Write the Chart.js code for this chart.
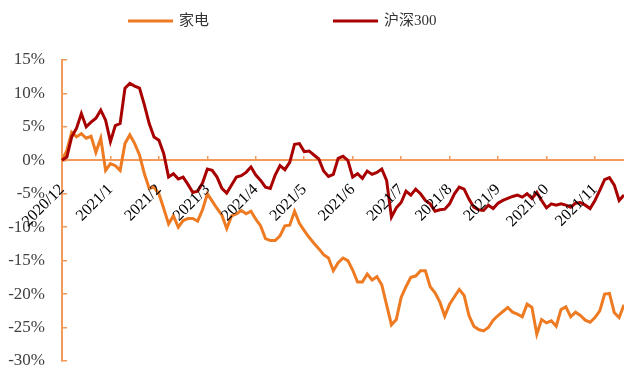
<!DOCTYPE html>
<html>
<head>
<meta charset="utf-8">
<script src="https://cdn.jsdelivr.net/npm/chart.js@4.4.0/dist/chart.umd.min.js"></script>
<style>
  html, body { margin: 0; padding: 0; background: #fff; }
</style>
</head>
<body>
<canvas id="perfChart" width="624" height="374"></canvas>
<script>
// month ticks, one every `monthStep` points
const monthLabels = ['2020/12', '2021/1', '2021/2', '2021/3', '2021/4', '2021/5',
  '2021/6', '2021/7', '2021/8', '2021/9', '2021/10', '2021/11'];
const monthStep = 10;

// cumulative return, %
const jiadian = [
  0, 1.5, 4.2, 3.5, 4.0, 3.3, 3.6, 1.2, 3.3, -1.5,
  -0.5, -0.8, -1.5, 2.5, 3.8, 2.5, 0.8, -2.0, -4.2, -4.0,
  -5.0, -7.2, -9.5, -8.3, -10.0, -9.0, -8.7, -8.7, -9.1, -7.4,
  -5.0, -6.1, -7.2, -8.2, -10.2, -8.3, -8.0, -7.5, -8.0, -7.6,
  -8.8, -9.8, -11.7, -12.0, -12.0, -11.3, -9.8, -9.7, -7.6, -9.4,
  -10.5, -11.5, -12.4, -13.2, -14.1, -14.6, -16.5, -15.3, -14.6, -15.0,
  -16.4, -18.2, -18.2, -17.0, -17.9, -17.4, -18.6, -21.6, -24.6, -23.8,
  -20.5, -18.9, -17.5, -17.3, -16.5, -16.5, -18.9, -19.8, -21.2, -23.3,
  -21.5, -20.4, -19.3, -20.2, -23.2, -24.8, -25.3, -25.5, -25.0, -23.9,
  -23.2, -22.6, -22.0, -22.7, -23.0, -23.4, -21.5, -22.0, -26.0, -23.8,
  -24.3, -24.0, -24.8, -22.3, -21.9, -23.4, -22.7, -23.2, -23.9, -24.2,
  -23.5, -22.5, -20.0, -19.9, -22.8, -23.5, -21.6
];
const hs300 = [
  0, 0.5, 3.5, 4.8, 7.0, 5.0, 5.7, 6.3, 7.5, 6.0,
  2.8, 5.2, 5.5, 10.8, 11.5, 11.1, 10.8, 8.3, 5.5, 3.5,
  3.0, 1.0, -2.5, -2.0, -2.8, -2.5, -3.6, -4.8, -4.6, -3.4,
  -1.3, -1.5, -2.5, -4.2, -4.9, -3.7, -2.5, -2.3, -1.8, -1.0,
  -2.2, -3.0, -4.0, -4.2, -2.2, -0.8, -1.4, -0.3, 2.4, 2.5,
  1.3, 1.4, 0.8, 0.2, -1.6, -2.4, -2.1, 0.3, 0.6, 0.0,
  -2.5, -2.0, -2.7, -1.6, -2.1, -1.8, -1.3, -3.0, -8.5, -7.1,
  -6.3, -4.6, -5.2, -4.3, -5.0, -6.0, -6.5, -7.6, -7.4, -7.3,
  -6.5, -5.0, -4.0, -4.3, -5.8, -7.0, -7.4, -7.5, -6.7, -7.2,
  -6.4, -6.0, -5.7, -5.4, -5.2, -5.5, -5.0, -5.7, -4.8, -6.0,
  -7.1, -6.5, -6.7, -6.5, -6.7, -7.0, -6.4, -6.3, -6.7, -7.2,
  -6.0, -4.5, -2.9, -2.6, -3.7, -6.0, -5.2
];

const yMin = -30, yMax = 15, yStep = 5;

const labels = jiadian.map((_, i) => (i % monthStep === 0 ? monthLabels[i / monthStep] : ''));

const axisColor = '#F39A5A';

// legend drawn as short lines with labels at fixed spots
const lineLegend = {
  id: 'lineLegend',
  afterDraw(chart, args, opts) {
    const ctx = chart.ctx;
    ctx.save();
    ctx.font = opts.font;
    ctx.textBaseline = 'middle';
    chart.data.datasets.forEach((ds, i) => {
      const x = opts.x[i];
      ctx.strokeStyle = ds.borderColor;
      ctx.lineWidth = 3;
      ctx.beginPath();
      ctx.moveTo(x, opts.y);
      ctx.lineTo(x + opts.lineLength, opts.y);
      ctx.stroke();
      ctx.fillStyle = opts.color;
      ctx.fillText(ds.label, x + opts.lineLength + opts.gap, opts.y);
    });
    ctx.restore();
  }
};

new Chart(document.getElementById('perfChart'), {
  type: 'line',
  data: {
    labels: labels,
    datasets: [{
      label: '家电',
      data: jiadian,
      borderColor: '#EE7A22',
      borderWidth: 3,
      pointRadius: 0,
      order: 1
    }, {
      label: '沪深300',
      data: hs300,
      borderColor: '#A80000',
      borderWidth: 3,
      pointRadius: 0,
      order: 0
    }]
  },
  options: {
    responsive: false,
    animation: false,
    layout: { padding: { top: 60, bottom: 13, right: 0, left: 0 } },
    plugins: {
      legend: { display: false },
      tooltip: { enabled: false },
      lineLegend: {
        x: [128, 333],
        y: 21,
        lineLength: 45,
        gap: 6,
        font: '15px "Liberation Serif", "Noto Sans CJK SC"',
        color: '#333'
      }
    },
    scales: {
      x: {
        // axis sits on the 0% line
        position: { y: 0 },
        border: { color: axisColor, width: 2 },
        grid: { drawOnChartArea: false, color: axisColor, lineWidth: 1.5, tickLength: -5 },
        ticks: {
          z: 1,
          autoSkip: false,
          minRotation: 45,
          maxRotation: 45,
          padding: 25,
          color: '#000',
          font: { family: '"Liberation Serif"', size: 16 },
          callback(v) {
            const l = this.getLabelForValue(v);
            return l ? l : null;
          }
        },
        afterFit(scale) {
          scale.height = 0;
          scale.paddingLeft = 0;
          scale.paddingRight = 0;
          scale.paddingTop = 0;
          scale.paddingBottom = 0;
        }
      },
      y: {
        min: yMin,
        max: yMax,
        border: { color: axisColor, width: 2 },
        grid: { drawOnChartArea: false, color: axisColor, lineWidth: 1.5, tickLength: -5 },
        ticks: {
          stepSize: yStep,
          padding: 22,
          color: '#404040',
          font: { family: '"Liberation Serif"', size: 17 },
          callback: v => v + '%'
        },
        afterFit(scale) {
          scale.width = 62;
          scale.paddingTop = 0;
          scale.paddingBottom = 0;
        }
      }
    }
  },
  plugins: [lineLegend]
});
</script>
</body>
</html>
